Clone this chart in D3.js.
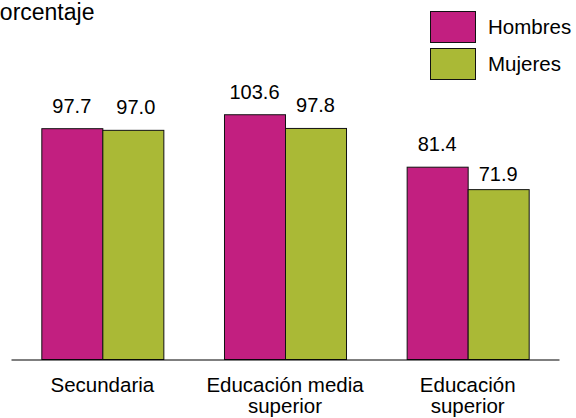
<!DOCTYPE html>
<html>
<head>
<meta charset="utf-8">
<script src="https://cdn.jsdelivr.net/npm/d3@7"></script>
<style>
  body { margin: 0; background: #fff; }
  text { font-family: Arial, "Liberation Sans", sans-serif; fill: #000; }
</style>
</head>
<body>
<div id="chart"></div>
<script>
var width = 576
var height = 418

// data
const categories = ["Secundaria", "Educación media superior", "Educación superior"];
const categoryLines = [["Secundaria"], ["Educación media", "superior"], ["Educación", "superior"]];
const series = ["Hombres", "Mujeres"];
const hombres = [97.7, 103.6, 81.4];
const mujeres = [97.0, 97.8, 71.9];
const yTitle = "Porcentaje";

const colors = {Hombres: "#C21F80", Mujeres: "#AAB936"};

// small per-label nudges (dx, dy) seen in the original
const labelNudge = {
    Hombres: [[0, 0], [0, 0], [0, 0]],
    Mujeres: [[3, 0], [0, 0], [0, 7]]
};

const svg = d3.select("#chart").append("svg")
    .attr("width", width)
    .attr("height", height)

const baseY = 359.5;

const xScale = d3.scaleBand()
    .domain(categories)
    .range([11, 559])
    .paddingInner(0.332)
    .paddingOuter(0.166);

const xInner = d3.scaleBand()
    .domain(series)
    .range([0, xScale.bandwidth()]);

const yScale = d3.scaleLinear()
    .domain([0, 120])
    .range([baseY, 76]);

const rows = categories.map((c, i) => ({cat: c, i: i, Hombres: hombres[i], Mujeres: mujeres[i]}));

// bars
const groups = svg.selectAll(".grp")
    .data(rows)
    .enter().append("g")
    .attr("class", "grp")
    .attr("transform", d => `translate(${xScale(d.cat)},0)`);

groups.selectAll("rect")
    .data(d => series.map(s => ({s: s, v: d[s], i: d.i})))
    .enter().append("rect")
    .attr("x", d => xInner(d.s) + 0.5)
    .attr("y", d => yScale(d.v))
    .attr("width", xInner.bandwidth())
    .attr("height", d => baseY - yScale(d.v))
    .attr("fill", d => colors[d.s])
    .attr("stroke", "#111")
    .attr("stroke-width", 1);

groups.selectAll(".val")
    .data(d => series.map(s => ({s: s, v: d[s], i: d.i})))
    .enter().append("text")
    .attr("class", "val")
    .attr("x", d => xInner(d.s) + xInner.bandwidth() / 2 + labelNudge[d.s][d.i][0])
    .attr("y", d => yScale(d.v) - 16 + labelNudge[d.s][d.i][1])
    .attr("text-anchor", "middle")
    .style("font-size", "20px")
    .text(d => d.v.toFixed(1));

// x axis
const xAxis = d3.axisBottom(xScale).tickSize(0).tickSizeOuter(0);
const xAxisG = svg.append("g")
    .attr("transform", `translate(0,${baseY})`)
    .call(xAxis);

xAxisG.select(".domain").attr("stroke", "#000").attr("stroke-width", 1.2);

xAxisG.selectAll(".tick text").each(function(d, i) {
    const t = d3.select(this);
    t.text(null)
     .attr("y", 0)
     .attr("dy", null)
     .attr("fill", "#000")
     .style("font-size", "20.5px")
     .style("font-family", "Arial, 'Liberation Sans', sans-serif");
    categoryLines[i].forEach((line, k) => {
        t.append("tspan")
         .attr("x", 0)
         .attr("y", 32 + k * 21.5)
         .text(line);
    });
});

// y title (clipped at left edge like the original)
svg.append("text")
    .attr("x", -15.5)
    .attr("y", 20)
    .style("font-size", "23px")
    .text(yTitle);

// legend
const legend = svg.append("g").attr("transform", "translate(430,11)");
series.forEach((s, i) => {
    legend.append("rect")
        .attr("x", 0.5)
        .attr("y", i * 37 + 0.5)
        .attr("width", 45)
        .attr("height", 31)
        .attr("fill", colors[s])
        .attr("stroke", "#111");
    legend.append("text")
        .attr("x", 58)
        .attr("y", i * 37 + 23)
        .style("font-size", "20.5px")
        .text(s);
});
</script>
</body>
</html>
